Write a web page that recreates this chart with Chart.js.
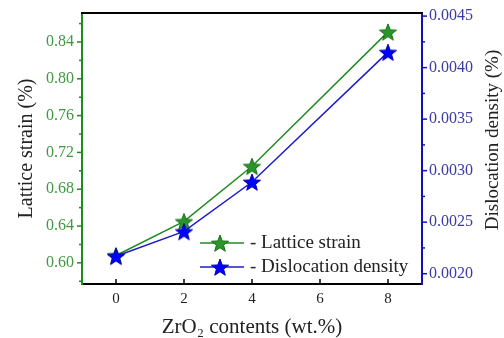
<!DOCTYPE html>
<html><head><meta charset="utf-8">
<script src="https://cdn.jsdelivr.net/npm/chart.js@4/dist/chart.umd.min.js"></script>
<style>html,body{margin:0;padding:0;background:#fff;overflow:hidden}#wrap{width:504px;height:338px}</style>
</head><body><div id="wrap"><canvas id="c" width="504" height="338"></canvas></div>
<script>
// ---- data ----
const zrContents = [0, 2, 4, 8];
const latticeStrain = [0.608, 0.645, 0.705, 0.851];
const dislocationDensity = [0.00217, 0.00241, 0.00289, 0.00415];
const xTicks = [0, 2, 4, 6, 8];
const leftTicks = [0.60, 0.64, 0.68, 0.72, 0.76, 0.80, 0.84];
const leftMinor = [0.58, 0.62, 0.66, 0.70, 0.74, 0.78, 0.82, 0.86];
const rightTicks = [0.0020, 0.0025, 0.0030, 0.0035, 0.0040, 0.0045];
const rightMinor = [0.00225, 0.00275, 0.00325, 0.00375, 0.00425];
const labels = ['Lattice strain', 'Dislocation density'];
const xTitle = 'ZrO\u2082 contents (wt.%)';
const leftTitle = 'Lattice strain (%)';
const rightTitle = 'Dislocation density (%)';

const GREEN = '#1f8c1f', GREEN_TXT = '#3f9a3f', BLUE_LINE = '#1c1cc8', BLUE_TXT = '#3a3aa8';
const SERIF = "'Liberation Serif','Times New Roman',serif";

function starImg(fill, stroke, r) {
  const s = Math.ceil(r * 2 + 4);
  const c = document.createElement('canvas'); c.width = c.height = s;
  const g = c.getContext('2d');
  g.beginPath();
  for (let i = 0; i < 10; i++) {
    const a = -Math.PI / 2 + i * Math.PI / 5;
    const rr = i % 2 ? r * 0.42 : r;
    g.lineTo(s / 2 + rr * Math.cos(a), s / 2 + 1 + rr * Math.sin(a));
  }
  g.closePath(); g.fillStyle = fill; g.fill();
  g.lineWidth = 1; g.strokeStyle = stroke; g.stroke();
  return c;
}
const greenStar = starImg('#2a962a', '#1a6e1a', 9);
const blueStar = starImg('#0000ff', '#0000b0', 9);

const decor = {
  id: 'decor',
  afterDraw(chart) {
    const ctx = chart.ctx, a = chart.chartArea;
    const sx = chart.scales.x, sy = chart.scales.y, sy1 = chart.scales.y1;
    ctx.save();
    ctx.strokeStyle = '#000'; ctx.lineWidth = 2;
    ctx.beginPath(); ctx.moveTo(a.left - 1, a.top); ctx.lineTo(a.right + 1, a.top); ctx.stroke();
    ctx.lineWidth = 1.5;
    ctx.strokeStyle = GREEN;
    leftTicks.forEach(v => { const y = sy.getPixelForValue(v); ctx.beginPath(); ctx.moveTo(a.left, y); ctx.lineTo(a.left - 5, y); ctx.stroke(); });
    leftMinor.forEach(v => { const y = sy.getPixelForValue(v); if (y < a.top || y > a.bottom) return; ctx.beginPath(); ctx.moveTo(a.left, y); ctx.lineTo(a.left - 3, y); ctx.stroke(); });
    ctx.strokeStyle = '#1010c0';
    rightTicks.forEach(v => { const y = sy1.getPixelForValue(v); ctx.beginPath(); ctx.moveTo(a.right, y); ctx.lineTo(a.right + 5, y); ctx.stroke(); });
    rightMinor.forEach(v => { const y = sy1.getPixelForValue(v); ctx.beginPath(); ctx.moveTo(a.right, y); ctx.lineTo(a.right + 3, y); ctx.stroke(); });
    ctx.strokeStyle = '#000';
    xTicks.forEach(v => { const x = sx.getPixelForValue(v); ctx.beginPath(); ctx.moveTo(x, a.bottom); ctx.lineTo(x, a.bottom - 5); ctx.stroke(); });
    ctx.fillStyle = '#222'; ctx.font = '19px ' + SERIF;
    ctx.textAlign = 'center'; ctx.textBaseline = 'middle';
    ctx.translate(493, 140); ctx.rotate(-Math.PI / 2); ctx.fillText(rightTitle, 0, 0);
    ctx.restore();
    ctx.save();
    ctx.font = '19px ' + SERIF; ctx.textBaseline = 'middle'; ctx.textAlign = 'left';
    chart.data.datasets.slice().sort((p, q) => p.legendOrder - q.legendOrder).forEach((ds, i) => {
      const y = a.top + 230 + i * 24;
      ctx.strokeStyle = ds.borderColor; ctx.lineWidth = 1.5;
      ctx.beginPath(); ctx.moveTo(200, y); ctx.lineTo(244, y); ctx.stroke();
      const img = ds.pointStyle;
      ctx.drawImage(img, 220 - img.width / 2, y - img.height / 2);
      ctx.fillStyle = '#222';
      ctx.fillText('- ' + ds.label, 250, y);
    });
    ctx.restore();
  }
};

const noPad = s => { s.width = 82; s.paddingTop = 0; s.paddingBottom = 0; };

new Chart(document.getElementById('c'), {
  type: 'line',
  data: {
    datasets: [
      { label: labels[1], legendOrder: 1, yAxisID: 'y1', order: 0,
        data: zrContents.map((x, i) => ({ x, y: dislocationDensity[i] })),
        borderColor: BLUE_LINE, borderWidth: 1.5, pointStyle: blueStar, pointRadius: 9, tension: 0 },
      { label: labels[0], legendOrder: 0, yAxisID: 'y', order: 1,
        data: zrContents.map((x, i) => ({ x, y: latticeStrain[i] })),
        borderColor: GREEN, borderWidth: 1.5, pointStyle: greenStar, pointRadius: 9, tension: 0 }
    ]
  },
  options: {
    responsive: false, animation: false, devicePixelRatio: 1,
    layout: { padding: { top: 13, left: 0, right: 0, bottom: 0 } },
    plugins: { legend: { display: false }, tooltip: { enabled: false } },
    scales: {
      x: {
        type: 'linear', min: -1, max: 9,
        afterBuildTicks: s => { s.ticks = xTicks.map(v => ({ value: v })); },
        afterFit: s => { s.height = 54; s.paddingLeft = 0; s.paddingRight = 0; },
        grid: { display: false, drawTicks: false },
        border: { display: true, color: '#000', width: 2 },
        ticks: { padding: 6, color: '#222', font: { family: SERIF, size: 15 }, callback: v => String(v) },
        title: { display: true, text: xTitle, color: '#222', font: { family: SERIF, size: 21, lineHeight: 1 }, padding: { top: 0, bottom: 0 } }
      },
      y: {
        position: 'left', min: 0.577, max: 0.8715,
        afterBuildTicks: s => { s.ticks = leftTicks.map(v => ({ value: v })); },
        afterFit: noPad,
        grid: { display: false, drawTicks: false },
        border: { display: true, color: GREEN, width: 2 },
        ticks: { padding: 8, color: GREEN_TXT, font: { family: SERIF, size: 16 }, callback: v => Number(v).toFixed(2) },
        title: { display: true, text: leftTitle, color: '#222', font: { family: SERIF, size: 20, lineHeight: 1.2 }, padding: { top: 15, bottom: 0 } }
      },
      y1: {
        position: 'right', min: 0.00190, max: 0.00453,
        afterBuildTicks: s => { s.ticks = rightTicks.map(v => ({ value: v })); },
        afterFit: noPad,
        grid: { display: false, drawTicks: false },
        border: { display: true, color: '#1010c0', width: 2 },
        ticks: { padding: 7, color: BLUE_TXT, font: { family: SERIF, size: 16 }, callback: v => Number(v).toFixed(4) },
        title: { display: false, text: rightTitle }
      }
    }
  },
  plugins: [decor]
});
</script></body></html>
